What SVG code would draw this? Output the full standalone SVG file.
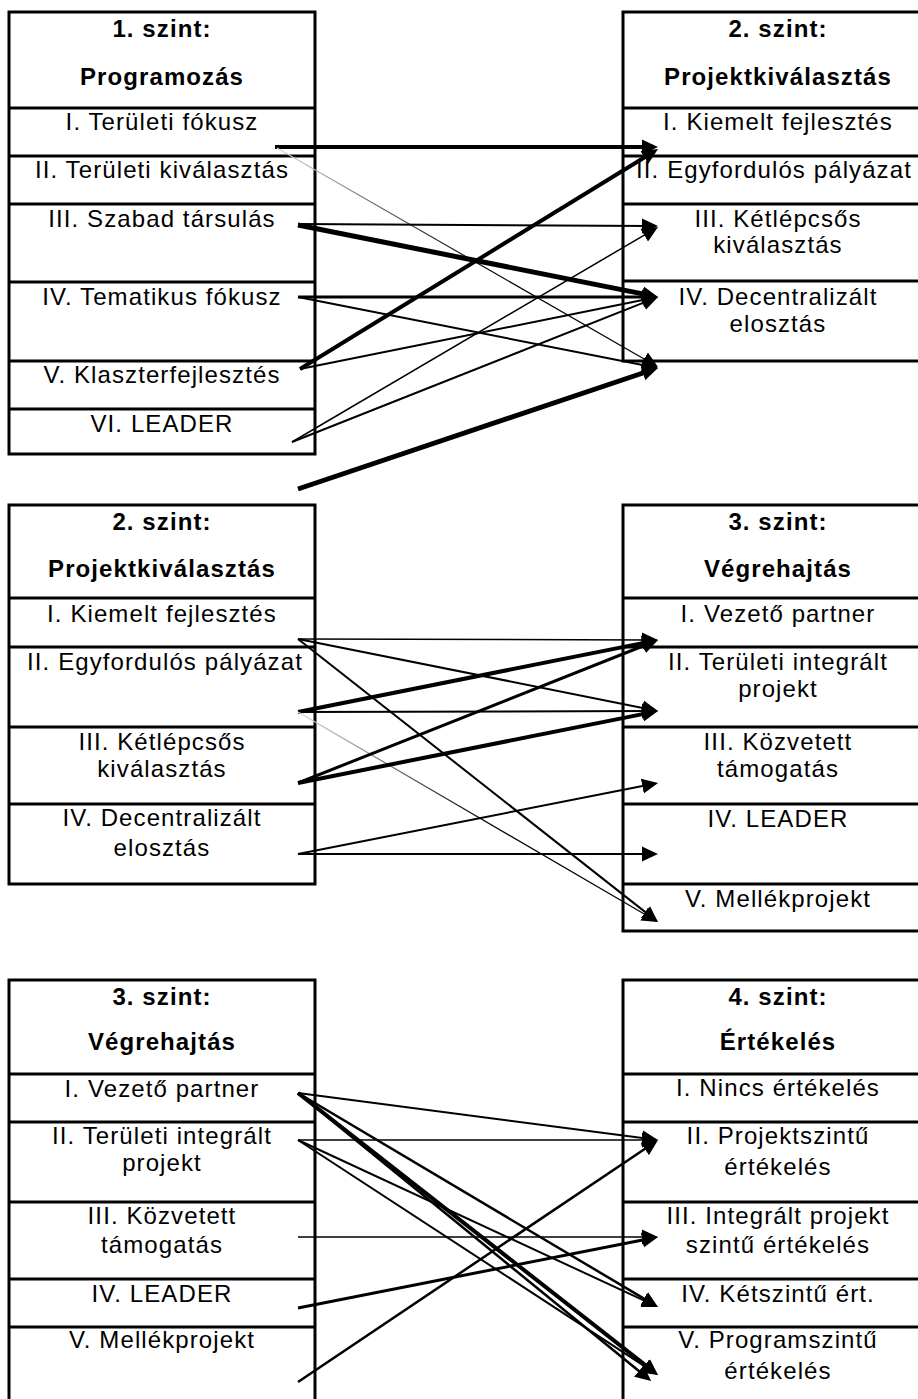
<svg xmlns="http://www.w3.org/2000/svg" width="918" height="1399" viewBox="0 0 918 1399">
<style>
.box{fill:#fff;stroke:#000;stroke-width:3}
.dv{stroke:#000;stroke-width:3}
.t{font-family:"Liberation Sans",Arial,sans-serif;font-size:24px;letter-spacing:1.1px;text-anchor:middle;fill:#000}
.h{font-weight:bold}
.c{stroke:#000;fill:none;marker-end:url(#ah)}
.f{stroke:url(#fade);stroke-width:1.2;fill:none;marker-end:url(#ah)}
</style>
<defs>
<marker id="ah" viewBox="0 0 16 16" markerWidth="16" markerHeight="16" refX="8" refY="8" orient="auto" markerUnits="userSpaceOnUse">
<path d="M0,0.5 L16,8 L0,15.5 Z" fill="#000"/>
</marker>
<linearGradient id="fade" x1="0" y1="0" x2="1" y2="0">
<stop offset="0" stop-color="#d8d8d8"/>
<stop offset="0.55" stop-color="#000"/>
<stop offset="1" stop-color="#000"/>
</linearGradient>
</defs>
<rect width="918" height="1399" fill="#fff"/>

<g id="box-l1-programozas">
<rect class="box" x="9" y="12" width="306" height="442"/>
<line class="dv" x1="9" y1="108" x2="315" y2="108"/>
<line class="dv" x1="9" y1="156" x2="315" y2="156"/>
<line class="dv" x1="9" y1="204" x2="315" y2="204"/>
<line class="dv" x1="9" y1="282" x2="315" y2="282"/>
<line class="dv" x1="9" y1="361" x2="315" y2="361"/>
<line class="dv" x1="9" y1="409" x2="315" y2="409"/>
<text class="t h" x="162" y="37">1. szint:</text>
<text class="t h" x="162" y="85">Programozás</text>
<text class="t" x="162" y="130">I. Területi fókusz</text>
<text class="t" x="162" y="178">II. Területi kiválasztás</text>
<text class="t" x="162" y="227">III. Szabad társulás</text>
<text class="t" x="162" y="305">IV. Tematikus fókusz</text>
<text class="t" x="162" y="383">V. Klaszterfejlesztés</text>
<text class="t" x="162" y="432">VI. LEADER</text>
</g>

<g id="box-r1-projektkivalasztas">
<rect class="box" x="623" y="12" width="310" height="349"/>
<line class="dv" x1="623" y1="108" x2="933" y2="108"/>
<line class="dv" x1="623" y1="156" x2="933" y2="156"/>
<line class="dv" x1="623" y1="204" x2="933" y2="204"/>
<line class="dv" x1="623" y1="281" x2="933" y2="281"/>
<text class="t h" x="778" y="37">2. szint:</text>
<text class="t h" x="778" y="85">Projektkiválasztás</text>
<text class="t" x="778" y="130">I. Kiemelt fejlesztés</text>
<text class="t" x="774" y="178">II. Egyfordulós pályázat</text>
<text class="t" x="778" y="227">III. Kétlépcsős</text>
<text class="t" x="778" y="253">kiválasztás</text>
<text class="t" x="778" y="305">IV. Decentralizált</text>
<text class="t" x="778" y="332">elosztás</text>
</g>

<g id="box-l2-projektkivalasztas">
<rect class="box" x="9" y="505" width="306" height="379"/>
<line class="dv" x1="9" y1="598" x2="315" y2="598"/>
<line class="dv" x1="9" y1="647" x2="315" y2="647"/>
<line class="dv" x1="9" y1="727" x2="315" y2="727"/>
<line class="dv" x1="9" y1="804" x2="315" y2="804"/>
<text class="t h" x="162" y="530">2. szint:</text>
<text class="t h" x="162" y="577">Projektkiválasztás</text>
<text class="t" x="162" y="622">I. Kiemelt fejlesztés</text>
<text class="t" x="165" y="670">II. Egyfordulós pályázat</text>
<text class="t" x="162" y="750">III. Kétlépcsős</text>
<text class="t" x="162" y="777">kiválasztás</text>
<text class="t" x="162" y="826">IV. Decentralizált</text>
<text class="t" x="162" y="856">elosztás</text>
</g>

<g id="box-r2-vegrehajtas">
<rect class="box" x="623" y="505" width="310" height="426"/>
<line class="dv" x1="623" y1="598" x2="933" y2="598"/>
<line class="dv" x1="623" y1="647" x2="933" y2="647"/>
<line class="dv" x1="623" y1="727" x2="933" y2="727"/>
<line class="dv" x1="623" y1="804" x2="933" y2="804"/>
<line class="dv" x1="623" y1="884" x2="933" y2="884"/>
<text class="t h" x="778" y="530">3. szint:</text>
<text class="t h" x="778" y="577">Végrehajtás</text>
<text class="t" x="778" y="622">I. Vezető partner</text>
<text class="t" x="778" y="670">II. Területi integrált</text>
<text class="t" x="778" y="697">projekt</text>
<text class="t" x="778" y="750">III. Közvetett</text>
<text class="t" x="778" y="777">támogatás</text>
<text class="t" x="778" y="827">IV. LEADER</text>
<text class="t" x="778" y="907">V. Mellékprojekt</text>
</g>

<g id="box-l3-vegrehajtas">
<rect class="box" x="9" y="980" width="306" height="440"/>
<line class="dv" x1="9" y1="1074" x2="315" y2="1074"/>
<line class="dv" x1="9" y1="1122" x2="315" y2="1122"/>
<line class="dv" x1="9" y1="1202" x2="315" y2="1202"/>
<line class="dv" x1="9" y1="1279" x2="315" y2="1279"/>
<line class="dv" x1="9" y1="1327" x2="315" y2="1327"/>
<text class="t h" x="162" y="1005">3. szint:</text>
<text class="t h" x="162" y="1050">Végrehajtás</text>
<text class="t" x="162" y="1097">I. Vezető partner</text>
<text class="t" x="162" y="1144">II. Területi integrált</text>
<text class="t" x="162" y="1171">projekt</text>
<text class="t" x="162" y="1224">III. Közvetett</text>
<text class="t" x="162" y="1253">támogatás</text>
<text class="t" x="162" y="1302">IV. LEADER</text>
<text class="t" x="162" y="1348">V. Mellékprojekt</text>
</g>

<g id="box-r3-ertekeles">
<rect class="box" x="623" y="980" width="310" height="440"/>
<line class="dv" x1="623" y1="1074" x2="933" y2="1074"/>
<line class="dv" x1="623" y1="1122" x2="933" y2="1122"/>
<line class="dv" x1="623" y1="1202" x2="933" y2="1202"/>
<line class="dv" x1="623" y1="1279" x2="933" y2="1279"/>
<line class="dv" x1="623" y1="1327" x2="933" y2="1327"/>
<text class="t h" x="778" y="1005">4. szint:</text>
<text class="t h" x="778" y="1050">Értékelés</text>
<text class="t" x="778" y="1096">I. Nincs értékelés</text>
<text class="t" x="778" y="1144">II. Projektszintű</text>
<text class="t" x="778" y="1175">értékelés</text>
<text class="t" x="778" y="1224">III. Integrált projekt</text>
<text class="t" x="778" y="1253">szintű értékelés</text>
<text class="t" x="778" y="1302">IV. Kétszintű ért.</text>
<text class="t" x="778" y="1348">V. Programszintű</text>
<text class="t" x="778" y="1379">értékelés</text>
</g>

<g id="connectors">
<!-- level 1 to level 2 -->
<line class="c" stroke-width="4" x1="275" y1="147" x2="650" y2="147"/>
<line class="f" x1="277" y1="148" x2="651.1" y2="363"/>
<line class="c" stroke-width="2" x1="298" y1="224" x2="650" y2="226"/>
<line class="c" stroke-width="5" x1="298" y1="225" x2="650.2" y2="295.4"/>
<line class="c" stroke-width="3" x1="298" y1="297" x2="650" y2="297"/>
<line class="c" stroke-width="2" x1="298" y1="297" x2="650.2" y2="366.5"/>
<line class="c" stroke-width="4" x1="300" y1="369" x2="651.2" y2="153.2"/>
<line class="c" stroke-width="2" x1="300" y1="369" x2="650.2" y2="298.6"/>
<line class="c" stroke-width="1.5" x1="292" y1="442" x2="651.1" y2="231.1"/>
<line class="c" stroke-width="2" x1="292" y1="442" x2="650.6" y2="299.9"/>
<line class="c" stroke-width="5" x1="298" y1="489" x2="650.4" y2="370.5"/>
<!-- level 2 to level 3 -->
<line class="c" stroke-width="1.5" x1="298" y1="639" x2="650" y2="640"/>
<line class="c" stroke-width="2" x1="298" y1="639" x2="650.2" y2="709.4"/>
<line class="c" stroke-width="2" x1="298" y1="639" x2="651.7" y2="917.1"/>
<line class="c" stroke-width="4" x1="298" y1="712" x2="650.2" y2="641.6"/>
<line class="c" stroke-width="2" x1="298" y1="712" x2="650" y2="711"/>
<line class="f" x1="298" y1="712" x2="651.1" y2="918"/>
<line class="c" stroke-width="3" x1="298" y1="783" x2="650.6" y2="643"/>
<line class="c" stroke-width="4" x1="298" y1="783" x2="650.2" y2="712.6"/>
<line class="c" stroke-width="2" x1="298" y1="854" x2="650.2" y2="784.5"/>
<line class="c" stroke-width="2" x1="298" y1="854" x2="650" y2="854"/>
<!-- level 3 to level 4 -->
<line class="c" stroke-width="2" x1="298" y1="1093" x2="650.1" y2="1139"/>
<line class="c" stroke-width="2.5" x1="298" y1="1093" x2="651.1" y2="1302.9"/>
<line class="c" stroke-width="4" x1="298" y1="1093" x2="651.7" y2="1370.1"/>
<line class="c" stroke-width="2.5" x1="298" y1="1093" x2="645" y2="1376"/>
<line class="c" stroke-width="1.5" x1="298" y1="1140" x2="650" y2="1140"/>
<line class="c" stroke-width="2" x1="298" y1="1140" x2="650.7" y2="1303.6"/>
<line class="c" stroke-width="2" x1="298" y1="1140" x2="651.3" y2="1370.6"/>
<line class="c" stroke-width="1.5" x1="298" y1="1237" x2="650" y2="1237"/>
<line class="c" stroke-width="3" x1="298" y1="1308" x2="650.2" y2="1238.5"/>
<line class="c" stroke-width="2.5" x1="298" y1="1382" x2="651.4" y2="1144.5"/>
</g>
</svg>
